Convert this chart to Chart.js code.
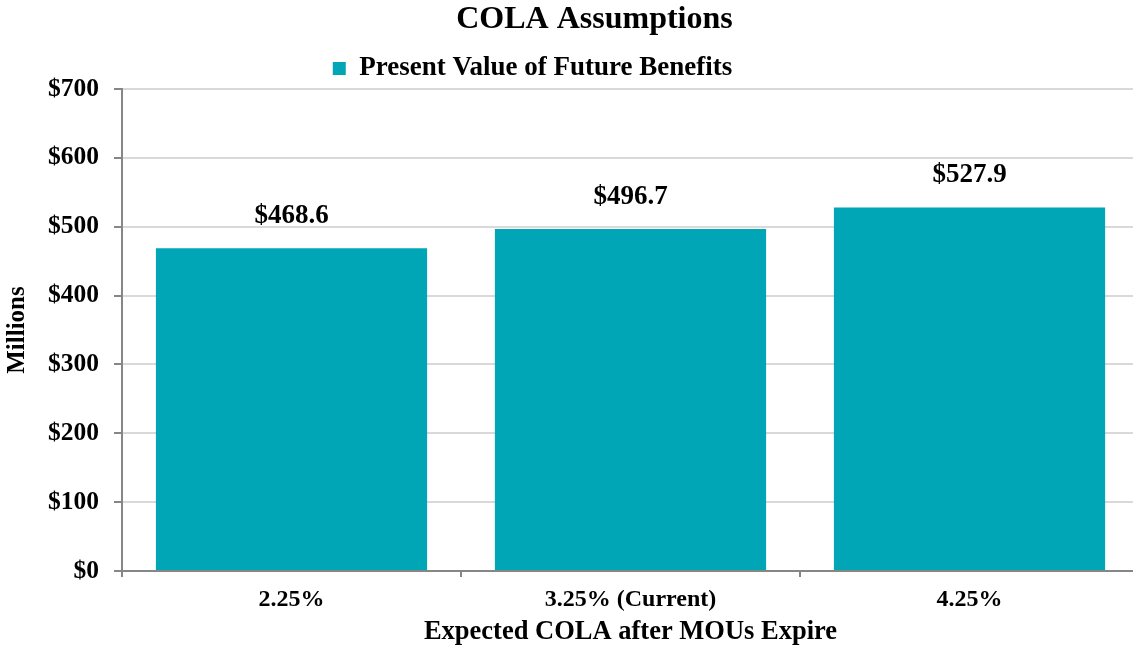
<!DOCTYPE html>
<html lang="en">
<head>
    <meta charset="UTF-8">
    <title>COLA Assumptions</title>
    <script src="https://cdn.jsdelivr.net/npm/chart.js"></script>
    <style>
        html, body { margin: 0; padding: 0; background: #fff; overflow: hidden; }
        #wrap { width: 1140px; height: 645px; }
    </style>
</head>
<body>
    <div id="wrap"><canvas id="colaChart"></canvas></div>
    <script>
        // chart data
        const categories = ['2.25%', '3.25% (Current)', '4.25%'];
        const pvfbValues = [468.6, 496.7, 527.9];
        const seriesName = 'Present Value of Future Benefits';
        const yTicks = [0, 100, 200, 300, 400, 500, 600, 700];

        const FONT = '"Liberation Serif", "Times New Roman", serif';
        const TEAL = '#01A6B6';
        const AXIS = '#868686';

        // shift title / legend like the original
        const shiftBlocks = {
            id: 'shiftBlocks',
            afterLayout(chart) {
                if (chart.titleBlock) {
                    chart.titleBlock.left += 25;
                    chart.titleBlock.right += 25;
                }
                if (chart.legend) {
                    chart.legend.left -= 37;
                    chart.legend.right -= 37;
                    chart.legend.top += 3;
                    chart.legend.bottom += 3;
                }
            }
        };

        // value labels above the bars
        const barLabels = {
            id: 'barLabels',
            afterDatasetsDraw(chart) {
                const ctx = chart.ctx;
                const meta = chart.getDatasetMeta(0);
                ctx.save();
                ctx.font = 'bold 27px ' + FONT;
                ctx.fillStyle = '#000';
                ctx.textAlign = 'center';
                ctx.textBaseline = 'middle';
                meta.data.forEach((bar, i) => {
                    ctx.fillText('$' + pvfbValues[i].toFixed(1), bar.x, bar.y - 32);
                });
                ctx.restore();
            }
        };

        new Chart(document.getElementById('colaChart'), {
            type: 'bar',
            data: {
                labels: categories,
                datasets: [{
                    label: seriesName,
                    data: pvfbValues,
                    backgroundColor: TEAL,
                    borderWidth: 0,
                    barPercentage: 0.8,
                    categoryPercentage: 1.0
                }]
            },
            options: {
                responsive: true,
                maintainAspectRatio: false,
                animation: false,
                layout: { padding: { left: 0, right: 1, top: 0, bottom: 0 } },
                plugins: {
                    title: {
                        display: true,
                        text: 'COLA Assumptions',
                        color: '#000',
                        font: { family: FONT, size: 32, weight: 'bold' },
                        padding: { top: 1, bottom: 2.6 }
                    },
                    legend: {
                        display: true,
                        position: 'top',
                        labels: {
                            color: '#000',
                            font: { family: FONT, size: 27, weight: 'bold' },
                            boxWidth: 13,
                            boxHeight: 13,
                            padding: 10
                        }
                    },
                    tooltip: { enabled: false }
                },
                scales: {
                    x: {
                        grid: {
                            display: true,
                            drawOnChartArea: false,
                            offset: true,
                            color: AXIS,
                            tickLength: 6,
                            lineWidth: 2
                        },
                        border: { color: AXIS, width: 2 },
                        ticks: {
                            color: '#000',
                            font: { family: FONT, size: 24, weight: 'bold' },
                            padding: 8,
                            maxRotation: 0
                        },
                        title: {
                            display: true,
                            text: 'Expected COLA after MOUs Expire',
                            color: '#000',
                            font: { family: FONT, size: 26.5, weight: 'bold', lineHeight: 1.0 },
                            padding: { top: 0, bottom: 0 }
                        },
                        afterFit(scale) { scale.height = 74; }
                    },
                    y: {
                        min: 0,
                        max: 700,
                        afterBuildTicks(scale) {
                            scale.ticks = yTicks.map(v => ({ value: v }));
                        },
                        grid: {
                            color: '#D9D9D9',
                            lineWidth: 2,
                            tickColor: AXIS,
                            tickLength: 8
                        },
                        border: { color: AXIS, width: 2 },
                        ticks: {
                            color: '#000',
                            font: { family: FONT, size: 25.5, weight: 'bold' },
                            padding: 15,
                            callback: v => '$' + v
                        },
                        title: {
                            display: true,
                            text: 'Millions',
                            color: '#000',
                            font: { family: FONT, size: 25, weight: 'bold' },
                            padding: { top: 3, bottom: 0 }
                        },
                        afterFit(scale) { scale.width = 122; }
                    }
                }
            },
            plugins: [shiftBlocks, barLabels]
        });
    </script>
</body>
</html>
